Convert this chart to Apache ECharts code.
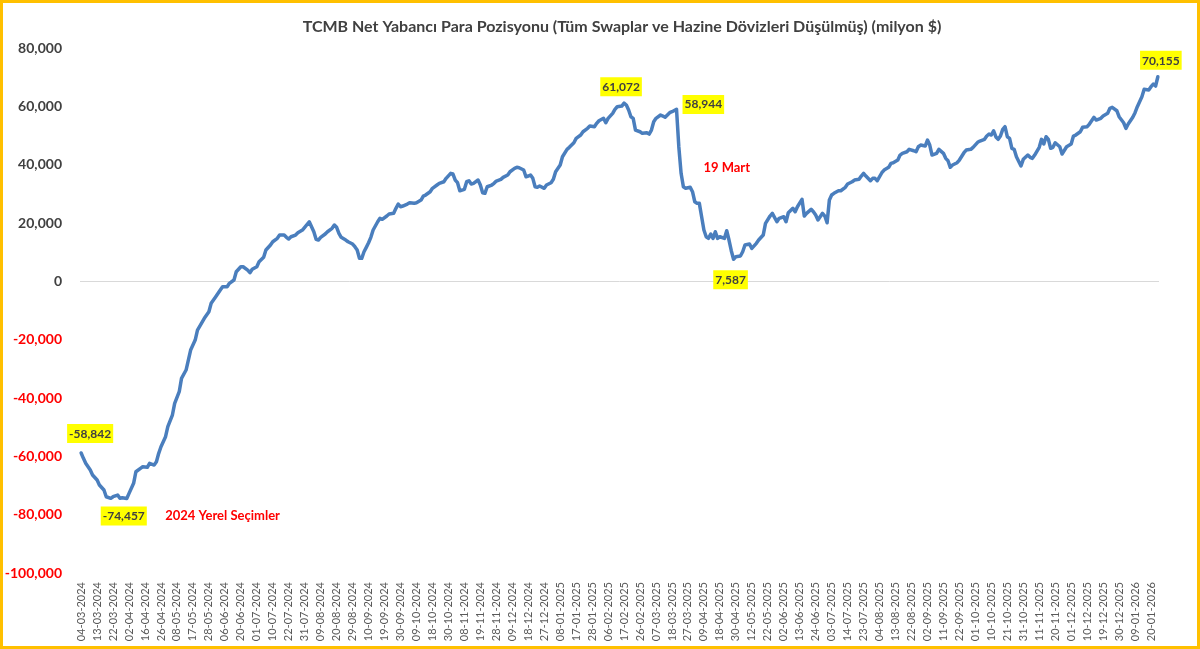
<!DOCTYPE html>
<html><head><meta charset="utf-8">
<script src="https://cdn.jsdelivr.net/npm/echarts@6/dist/echarts.min.js"></script>
<style>
html,body{margin:0;padding:0;background:#fff;}
#wrap{position:relative;width:1200px;height:649px;overflow:hidden;}
#chart{position:absolute;left:0;top:0;width:1200px;height:649px;}
#frame{position:absolute;left:0;top:0;width:1200px;height:649px;box-sizing:border-box;border:3px solid #FFC000;pointer-events:none;}
</style></head><body>
<div id="wrap"><div id="chart"></div><div id="frame"></div></div>
<script>
const chartTitle = 'TCMB Net Yabancı Para Pozisyonu (Tüm Swaplar ve Hazine Dövizleri Düşülmüş) (milyon $)';

// tick labels: every 7th business day, starting at business day 0
const tickLabels = ['04-03-2024','13-03-2024','22-03-2024','02-04-2024','16-04-2024','26-04-2024','08-05-2024','17-05-2024','28-05-2024','06-06-2024','20-06-2024','01-07-2024','10-07-2024','22-07-2024','31-07-2024','09-08-2024','20-08-2024','29-08-2024','10-09-2024','19-09-2024','30-09-2024','09-10-2024','18-10-2024','30-10-2024','08-11-2024','19-11-2024','28-11-2024','09-12-2024','18-12-2024','27-12-2024','08-01-2025','17-01-2025','28-01-2025','06-02-2025','17-02-2025','26-02-2025','07-03-2025','18-03-2025','27-03-2025','09-04-2025','18-04-2025','30-04-2025','12-05-2025','22-05-2025','02-06-2025','13-06-2025','24-06-2025','03-07-2025','14-07-2025','23-07-2025','04-08-2025','13-08-2025','22-08-2025','02-09-2025','11-09-2025','22-09-2025','01-10-2025','10-10-2025','21-10-2025','31-10-2025','11-11-2025','20-11-2025','01-12-2025','10-12-2025','19-12-2025','30-12-2025','09-01-2026','20-01-2026'];
const ticksEvery = 7;
const lastDay = 472;

// [business day index, net FX position (million $)] — 2024
const netPosition2024 = [[0,-58842],[1,-60690],[2,-62400],[4,-64700],[5,-66410],[7,-68130],[8,-69840],[10,-71560],[11,-73850],[13,-74400],[14,-73850],[16,-73270],[17,-74400],[18,-74190],[20,-74457],[21,-72690],[23,-69260],[24,-65280],[26,-64110],[27,-63570],[29,-63770],[30,-62400],[32,-62980],[33,-61850],[34,-58970],[35,-56710],[37,-53280],[38,-49850],[40,-45840],[41,-41830],[43,-37850],[44,-33260],[46,-30410],[47,-26980],[48,-23550],[50,-20130],[51,-16700],[54,-12690],[56,-10420],[57,-7540],[59,-5280],[61,-2980],[62,-1850],[64,-1850],[65,-690],[67,450],[68,3290],[70,5010],[71,5010],[73,3870],[74,2950],[75,4110],[77,5010],[78,6720],[80,8230],[81,10730],[83,12450],[84,13580],[86,14740],[87,15870],[89,15870],[90,15090],[91,14500],[92,15290],[94,15870],[95,16660],[97,17590],[98,18510],[100,20430],[102,17010],[103,14400],[104,14160],[105,15090],[107,16220],[108,17010],[110,18170],[111,19300],[112,18510],[113,16460],[114,15090],[116,14160],[117,13580],[119,12790],[120,11860],[121,10730],[122,7890],[123,7890],[124,10150],[125,11660],[126,13230],[127,15090],[128,17590],[130,20430],[131,21600],[132,21260],[134,22390],[135,23070],[137,23310],[138,25030],[139,26500],[140,25580],[141,25820],[143,26500],[144,26950],[146,26740],[147,26950],[149,27870],[150,29250],[151,29590],[153,30720],[154,31890],[156,33020],[157,33600],[159,34150],[160,35310],[162,37030],[163,36790],[164,34730],[165,33810],[166,31060],[168,31540],[169,34150],[170,34490],[171,33360],[172,33600],[174,34730],[175,33020],[176,30380],[177,30170],[178,32430],[180,33020],[181,33600],[182,34390],[184,34970],[185,35660],[187,36450],[188,37580],[190,38740],[191,39090],[192,38950],[194,38160],[195,35860],[196,36100],[197,36450],[198,35310],[199,32430],[200,32230],[201,32670],[203,31890],[204,33020]];
// 2025
const netPosition2025 = [[206,33810],[207,34970],[208,37580],[210,39870],[211,42720],[213,45260],[214,45940],[216,47520],[217,49030],[219,50160],[220,51290],[222,52460],[223,53250],[225,53010],[226,54170],[227,55060],[229,55890],[230,54380],[231,55890],[233,57600],[234,58970],[235,59860],[237,60100],[238,61072],[239,60450],[240,58730],[241,56430],[242,55890],[243,51870],[245,51290],[246,50740],[248,50950],[249,50500],[250,51870],[251,54720],[252,55890],[254,57020],[255,56670],[256,56230],[258,57810],[259,58150],[261,58944],[262,46150],[263,37030],[264,32430],[265,31890],[267,32230],[268,30720],[269,27290],[270,26740],[271,26740],[272,22150],[273,17590],[274,15290],[275,14740],[276,16220],[277,14740],[278,17010],[279,14740],[280,15290],[282,14740],[283,17350],[284,14160],[285,10500],[286,7587],[287,8430],[289,8670],[290,10150],[291,12450],[293,12790],[294,11310],[296,13030],[297,14160],[299,15870],[300,19890],[302,22390],[303,23310],[305,20430],[306,21600],[308,22150],[309,20430],[310,23520],[312,25030],[313,23860],[314,25580],[316,28110],[317,22390],[318,23310],[320,24690],[321,23860],[322,22730],[323,21020],[325,23310],[326,22390],[327,20090],[328,27870],[329,29590],[330,30170],[332,31060],[333,31060],[335,32230],[336,33360],[338,34150],[339,34730],[341,34970],[342,36100],[343,37030],[344,36100],[346,34490],[347,35310],[348,35310],[349,34490],[351,37230],[352,38160],[354,39090],[355,40460],[356,40660],[358,41590],[359,43300],[360,43890],[362,44430],[363,45260],[365,44780],[366,44430],[367,46150],[368,46730],[370,46390],[371,48450],[372,46730],[373,43300],[375,43890],[376,45260],[378,43890],[379,42170],[380,41350],[381,39090],[382,39870],[384,40660],[385,41590],[387,44090],[388,45020],[390,45260],[391,45940],[393,47660],[394,48100],[396,48690],[397,49820],[398,50500],[399,50160],[400,51630],[401,49500],[402,48690],[403,49820],[404,52110],[405,53010],[406,49580],[407,49030],[408,45600],[409,45260],[410,42720],[412,39530],[413,41830],[415,43300],[416,42510],[417,42170],[418,43300],[420,45940],[421,48690],[422,47070],[423,49580],[424,48690],[425,45600],[426,45940],[427,47520],[429,46150],[430,43650],[432,46150],[434,47070],[435,49820],[436,50160],[438,51290],[439,52800],[441,53010],[442,53930],[444,56230],[445,55300],[447,55890],[448,56670],[450,57600],[451,59310],[452,59660],[454,58490],[455,56430],[457,54380],[458,52460],[459,53930],[461,56230],[462,57810],[463,59860]];
// 2026
const netPosition2026 = [[465,63290],[466,65830],[468,65590],[469,66720],[470,67650],[471,66960],[472,70155]];

// highlighted values (business day index)
const labeledDays = [0, 20, 238, 261, 286, 472];

// event notes: [business day index, value level, text]
const eventNotes = [[62, -80470, '2024 Yerel Seçimler'], [283, 38850, '19 Mart']];

const labelPlacement = {
  0:   {position: 'top', distance: 10, offset: [9, 0]},
  20:  {position: 'bottom', distance: 8, offset: [-3, 0]},
  238: {position: 'top', distance: 7, offset: [-3, 0]},
  261: {position: 'right', distance: 6, offset: [0, -5]},
  286: {position: 'bottom', distance: 11, offset: [-3, 0]},
  472: {position: 'top', distance: 7, offset: [3, 0]}
};

const allPoints = netPosition2024.concat(netPosition2025, netPosition2026);
const seriesData = allPoints.map(p => {
  if (labeledDays.includes(p[0])) {
    return {value: p, label: Object.assign({show: true}, labelPlacement[p[0]] || {})};
  }
  return p;
});

const fmt = v => Number(v).toLocaleString('en-US');
const FONT = 'Lato, "Open Sans", sans-serif';

const chart = echarts.init(document.getElementById('chart'), null, {renderer: 'canvas'});
chart.setOption({
  animation: false,
  backgroundColor: '#ffffff',
  title: {
    text: chartTitle,
    left: 617, top: 14, textAlign: 'center',
    textStyle: {fontFamily: FONT, fontSize: 16, fontWeight: 'bold', color: '#404040'}
  },
  grid: {left: 80, right: 41, top: 48, bottom: 76, containLabel: false},
  xAxis: {
    type: 'value',
    min: -0.5, max: lastDay + 0.5,
    axisLine: {show: false},
    axisTick: {show: false},
    splitLine: {show: false},
    axisLabel: {
      customValues: tickLabels.map((_, i) => i * ticksEvery),
      formatter: v => tickLabels[Math.round(v / ticksEvery)] || '',
      rotate: 90, margin: 9,
      fontFamily: FONT, fontSize: 11, color: '#595959'
    }
  },
  yAxis: {
    type: 'value',
    min: -100000, max: 80000, interval: 20000,
    axisLine: {show: false},
    axisTick: {show: false},
    splitLine: {show: false},
    axisLabel: {
      margin: 18,
      formatter: v => fmt(v),
      color: v => (Number(v) < 0 ? '#ff0000' : '#404040'),
      fontFamily: FONT, fontSize: 14, fontWeight: 'bold'
    }
  },
  series: [{
    type: 'line',
    data: seriesData,
    showSymbol: true,
    symbol: 'circle', symbolSize: 0,
    lineStyle: {color: '#4a7ebd', width: 3.5, join: 'round', cap: 'round'},
    itemStyle: {color: '#4a7ebd'},
    emphasis: {disabled: true},
    silent: true,
    label: {
      show: false,
      formatter: p => fmt(p.value[1]),
      backgroundColor: '#ffff00',
      color: '#404040',
      fontFamily: FONT, fontSize: 12, fontWeight: 'bold',
      padding: [4, 2, 3, 2]
    },
    markLine: {
      silent: true, symbol: 'none',
      label: {show: false},
      lineStyle: {color: '#d9d9d9', type: 'solid', width: 1},
      data: [{yAxis: 0}],
      z: 1
    },
    markPoint: {
      silent: true,
      symbol: 'circle', symbolSize: 0,
      label: {show: true, position: 'inside', color: '#ff0000', fontFamily: FONT, fontSize: 13, fontWeight: 'bold',
        formatter: p => p.name},
      data: eventNotes.map(n => ({coord: [n[0], n[1]], name: n[2]}))
    }
  }]
});
</script></body></html>
